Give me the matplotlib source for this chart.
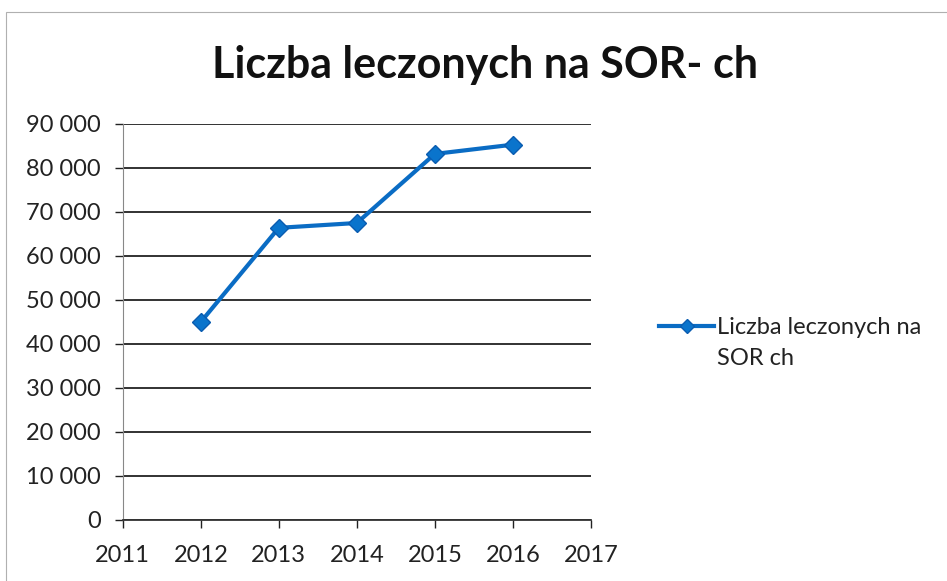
import matplotlib.pyplot as plt
from matplotlib.ticker import FuncFormatter, MultipleLocator
from matplotlib.patches import Rectangle

years = [2012, 2013, 2014, 2015, 2016]
patients = [45000, 66400, 67500, 83200, 85300]
series_label = "Liczba leczonych na\nSOR ch"
title = "Liczba leczonych na SOR- ch"

plt.rcParams['font.family'] = ['Lato', 'DejaVu Sans']

fig = plt.figure(figsize=(9.47, 5.81), dpi=100)
ax = fig.add_axes([0.1296, 0.105, 0.4944, 0.6816])

# light frame around the whole chart, like the Excel chart area
fig.patches.append(Rectangle((0.006, -0.01), 1.0, 0.99, transform=fig.transFigure,
                             fill=False, edgecolor='#b0b0b0', linewidth=0.8))

line_color = '#0a6cc4'
ax.plot(years, patients, color=line_color, linewidth=3, marker='D',
        markersize=9, markerfacecolor='#0a74cc', markeredgecolor='#0a5cb0',
        label=series_label)

ax.set_xlim(2011, 2017)
ax.set_ylim(0, 90000)
ax.yaxis.set_major_locator(MultipleLocator(10000))
ax.xaxis.set_major_locator(MultipleLocator(1))
ax.yaxis.set_major_formatter(FuncFormatter(lambda v, p: f"{int(v):,}".replace(",", " ")))
ax.xaxis.set_major_formatter(FuncFormatter(lambda v, p: f"{int(v)}"))

ax.grid(axis='y', color='#222222', linewidth=1.3)
ax.set_axisbelow(True)
for s in ['top', 'right']:
    ax.spines[s].set_visible(False)
ax.spines['left'].set_color('#888888')
ax.spines['left'].set_linewidth(0.8)
ax.spines['bottom'].set_color('#333333')
ax.spines['bottom'].set_linewidth(1.3)

ax.tick_params(axis='both', labelsize=17, colors='#222222', length=5.5, width=1)
ax.tick_params(axis='y', pad=10.5)
ax.tick_params(axis='x', pad=12.5)

fig.text(0.512, 0.888, title, ha='center', va='center', fontsize=31,
         fontweight='bold', color='#111111')

leg = ax.legend(loc='upper left', bbox_to_anchor=(1.10, 0.567), frameon=False,
                fontsize=17, handlelength=2.35, handletextpad=0.1,
                handleheight=1.1, markerscale=0.75,
                labelcolor='#222222')
leg.get_texts()[0].set_linespacing(1.6)
# put the legend marker next to the first line of the label, as Excel does
for col in leg._legend_handle_box.get_children():
    for row in col.get_children():
        row.align = 'top'

fig.savefig("out.png", dpi=100)
